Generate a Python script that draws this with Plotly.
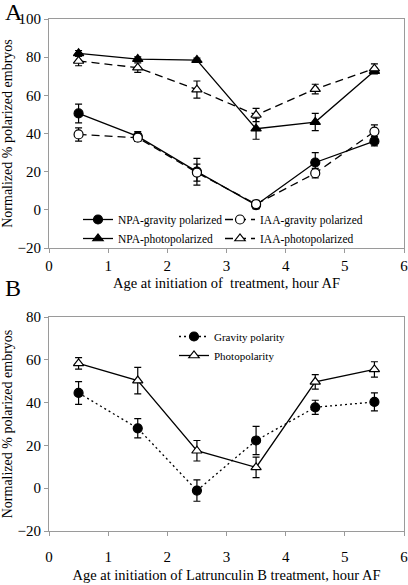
import plotly.graph_objects as go

x_hours = [0.5, 1.5, 2.5, 3.5, 4.5, 5.5]

# Panel A
npa_gravity = [50.5, 38.5, 20.0, 2.5, 24.8, 36.0]
npa_gravity_err = [4.9, 2.5, 7.0, 2.0, 5.2, 2.5]
iaa_gravity = [39.5, 37.8, 19.5, 3.0, 19.2, 41.0]
iaa_gravity_err = [3.5, 2.0, 4.5, 2.0, 2.5, 3.5]
npa_photo = [82.0, 79.0, 78.5, 42.5, 46.0, 72.7]
npa_photo_err = [1.5, 1.2, 1.0, 5.5, 4.5, 1.5]
iaa_photo = [78.0, 74.5, 63.0, 49.7, 63.3, 74.0]
iaa_photo_err = [2.5, 2.5, 4.5, 3.5, 2.5, 2.5]

# Panel B
lat_gravity = [44.5, 28.0, -1.1, 22.3, 37.8, 40.3]
lat_gravity_err = [5.3, 4.5, 5.0, 6.6, 3.3, 4.2]
lat_photo = [58.3, 50.3, 17.5, 9.7, 49.7, 55.5]
lat_photo_err = [2.7, 6.2, 4.8, 4.8, 3.4, 3.6]

FONT = "Liberation Serif"
W, H = 408, 585
ML, MR, MT, MB = 49, 4, 19, 54
plot_w = W - ML - MR
plot_h = H - MT - MB
A_bottom = (H - MB - 248) / plot_h
B_top = (H - MB - 317) / plot_h

def px_x(px):
    return (px - ML) / plot_w

def px_y(py):
    return (H - MB - py) / plot_h

fig = go.Figure()

def add(xs, ys, err, name, symbol, filled, dash, xa, ya, legend, size=9):
    fig.add_trace(go.Scatter(
        x=xs, y=ys, name=name, mode="lines+markers",
        xaxis=xa, yaxis=ya, legend=legend,
        line=dict(color="black", width=1.3, dash=dash),
        marker=dict(symbol=symbol, size=size,
                    color="black" if filled else "white",
                    line=dict(color="black", width=1.2)),
        error_y=dict(type="data", array=err, visible=True,
                     color="black", thickness=1.2, width=3.5),
    ))

add(x_hours, npa_gravity, npa_gravity_err, "NPA-gravity polarized", "circle", True, "solid", "x", "y", "legend")
add(x_hours, npa_photo, npa_photo_err, "NPA-photopolarized", "triangle-up", True, "solid", "x", "y", "legend")
add(x_hours, iaa_gravity, iaa_gravity_err, "IAA-gravity polarized", "circle", False, "8px,5px", "x", "y", "legend3")
add(x_hours, iaa_photo, iaa_photo_err, "IAA-photopolarized", "triangle-up", False, "8px,5px", "x", "y", "legend3")

add(x_hours, lat_gravity, lat_gravity_err, "Gravity polarity", "circle", True, "2px,3px", "x2", "y2", "legend2")
add(x_hours, lat_photo, lat_photo_err, "Photopolarity", "triangle-up", False, "solid", "x2", "y2", "legend2")

axis_common = dict(showline=True, mirror=True, linecolor="#9a9a9a", linewidth=1,
                   ticks="outside", tickcolor="#9a9a9a", ticklen=4,
                   showgrid=False, zeroline=False, automargin=False,
                   ticklabeloverflow="allow",
                   tickfont=dict(family=FONT, size=15, color="black"))

ytitle = "Normalized % polarized embryos"
legend_common = dict(orientation="v", xanchor="left", bgcolor="rgba(0,0,0,0)",
                     tracegroupgap=0, itemwidth=30)

fig.update_layout(
    width=W, height=H,
    margin=dict(l=ML, r=MR, t=MT, b=MB),
    plot_bgcolor="white", paper_bgcolor="white",
    font=dict(family=FONT, color="black"),
    xaxis=dict(domain=[0, 1], range=[0, 6], dtick=1, anchor="y",
               title=dict(text="Age at initiation of  treatment, hour AF",
                          font=dict(family=FONT, size=14.5), standoff=4),
               **axis_common),
    yaxis=dict(domain=[A_bottom, 1], range=[-20, 100], dtick=20, anchor="x",
               title=dict(text=ytitle, font=dict(family=FONT, size=14), standoff=6),
               **axis_common),
    xaxis2=dict(domain=[0, 1], range=[0, 6], dtick=1, anchor="y2",
                ticklabelstandoff=8,
                title=dict(text="Age at initiation of Latrunculin B treatment, hour AF",
                           font=dict(family=FONT, size=14.5), standoff=5),
                **axis_common),
    yaxis2=dict(domain=[0, B_top], range=[-20, 80], dtick=20, anchor="x2",
                title=dict(text=ytitle, font=dict(family=FONT, size=14), standoff=6),
                **axis_common),
    legend=dict(x=px_x(78), y=px_y(229), yanchor="middle",
                font=dict(family=FONT, size=11.5), **legend_common),
    legend3=dict(x=px_x(220), y=px_y(229), yanchor="middle",
                 font=dict(family=FONT, size=11.5), **legend_common),
    legend2=dict(x=px_x(174), y=px_y(346), yanchor="middle",
                 font=dict(family=FONT, size=11), **legend_common),
    showlegend=True,
    annotations=[
        dict(text="A", xref="paper", yref="paper", x=px_x(3), y=px_y(12),
             xanchor="left", yanchor="middle", showarrow=False,
             font=dict(family=FONT, size=24, color="black")),
        dict(text="B", xref="paper", yref="paper", x=px_x(3), y=px_y(288),
             xanchor="left", yanchor="middle", showarrow=False,
             font=dict(family=FONT, size=24, color="black")),
    ],
)

fig.write_html("out.html", config={"displayModeBar": False},
               post_script="document.body.style.margin='0';document.body.style.overflow='hidden';")
